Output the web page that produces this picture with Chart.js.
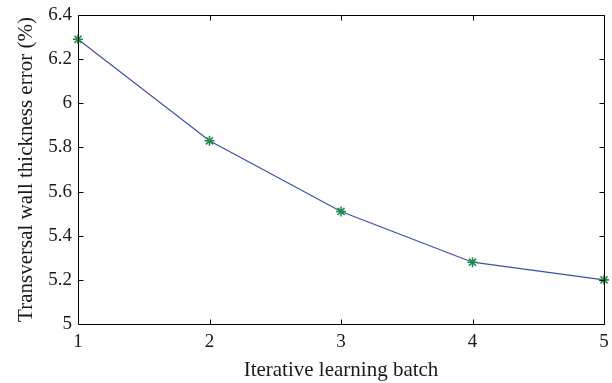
<!DOCTYPE html>
<html><head><meta charset="utf-8">
<script src="https://cdn.jsdelivr.net/npm/chart.js@4/dist/chart.umd.min.js"></script>
<style>html,body{margin:0;padding:0;background:#fff}#wrap{width:612px;height:383px}</style>
</head><body><div id="wrap"><canvas id="c" width="612" height="383"></canvas></div>
<script>
const batches = [1, 2, 3, 4, 5];
const errors = [6.29, 5.83, 5.51, 5.28, 5.20];
const xTickValues = [1, 2, 3, 4, 5];
const yTickValues = [5, 5.2, 5.4, 5.6, 5.8, 6, 6.2, 6.4];
const yTickLabels = ['5', '5.2', '5.4', '5.6', '5.8', '6', '6.2', '6.4'];

const FONT = 'Liberation Serif';
const boxPlugin = {
  id: 'box',
  afterDraw(chart) {
    const ctx = chart.ctx, a = chart.chartArea;
    const xs = chart.scales.x, ys = chart.scales.y;
    ctx.save();
    ctx.strokeStyle = '#000';
    ctx.lineWidth = 1;
    ctx.beginPath();
    const L = Math.round(a.left) + 0.5, R = Math.round(a.right) + 0.5;
    const T = Math.round(a.top) + 0.5, B = Math.round(a.bottom) + 0.5;
    ctx.rect(L, T, R - L, B - T);
    const tl = 5;
    xTickValues.forEach(v => {
      const px = Math.round(xs.getPixelForValue(v)) + 0.5;
      ctx.moveTo(px, B); ctx.lineTo(px, B - tl);
      ctx.moveTo(px, T); ctx.lineTo(px, T + tl);
    });
    yTickValues.forEach(v => {
      const py = Math.round(ys.getPixelForValue(v)) + 0.5;
      ctx.moveTo(L, py); ctx.lineTo(L + tl, py);
      ctx.moveTo(R, py); ctx.lineTo(R - tl, py);
    });
    ctx.stroke();
    ctx.restore();
  }
};

new Chart(document.getElementById('c'), {
  type: 'line',
  data: {
    datasets: [{
      data: batches.map((b, i) => ({x: b, y: errors[i]})),
      borderColor: '#3a50b0',
      borderWidth: 1.2,
      pointStyle: 'star',
      pointRadius: 5,
      pointBorderWidth: 1.6,
      pointBorderColor: '#1f8a4c',
      pointBackgroundColor: '#1f8a4c',
      tension: 0,
      clip: false
    }]
  },
  options: {
    responsive: false,
    animation: false,
    devicePixelRatio: 1,
    layout: {padding: {top: 15, right: 8, left: 0, bottom: 0}},
    plugins: {legend: {display: false}, tooltip: {enabled: false}},
    scales: {
      x: {
        type: 'linear', min: 1, max: 5,
        afterBuildTicks: s => { s.ticks = xTickValues.map(v => ({value: v})); },
        afterFit: s => { s.height = 59; s.paddingLeft = 0; s.paddingRight = 0; },
        grid: {display: false, drawTicks: false},
        border: {display: false},
        ticks: {color: '#1a1a1a', font: {family: FONT, size: 19}, padding: 7,
                callback: v => String(v)},
        title: {display: true, text: 'Iterative learning batch', color: '#1a1a1a',
                font: {family: FONT, size: 21}, padding: {top: 0, bottom: 0}}
      },
      y: {
        type: 'linear', min: 5, max: 6.4,
        afterBuildTicks: s => { s.ticks = yTickValues.map(v => ({value: v})); },
        afterFit: s => { s.width = 78; s.paddingTop = 0; s.paddingBottom = 0; },
        grid: {display: false, drawTicks: false},
        border: {display: false},
        ticks: {color: '#1a1a1a', font: {family: FONT, size: 19}, padding: 6,
                callback: (v, i) => yTickLabels[i]},
        title: {display: true, text: 'Transversal wall thickness error (%)', color: '#1a1a1a',
                font: {family: FONT, size: 21}, padding: {top: 14, bottom: 0}}
      }
    }
  },
  plugins: [boxPlugin]
});
</script></body></html>
